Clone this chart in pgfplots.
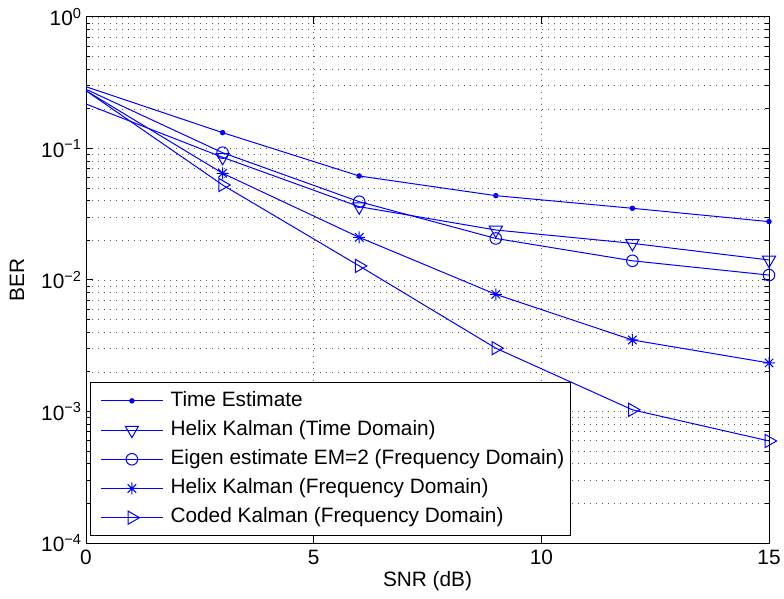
\documentclass[border=0pt]{standalone}
\usepackage{fontspec}
\setmainfont{Liberation Sans}
\usepackage{pgfplots}
\pgfplotsset{compat=1.18}
\usetikzlibrary{calc}

% MATLAB-like '*' marker (plus and cross)
\pgfdeclareplotmark{mstar}{%
  \pgfpathmoveto{\pgfqpoint{-\pgfplotmarksize}{0pt}}\pgfpathlineto{\pgfqpoint{\pgfplotmarksize}{0pt}}%
  \pgfpathmoveto{\pgfqpoint{0pt}{-\pgfplotmarksize}}\pgfpathlineto{\pgfqpoint{0pt}{\pgfplotmarksize}}%
  \pgfpathmoveto{\pgfqpoint{-0.707\pgfplotmarksize}{-0.707\pgfplotmarksize}}\pgfpathlineto{\pgfqpoint{0.707\pgfplotmarksize}{0.707\pgfplotmarksize}}%
  \pgfpathmoveto{\pgfqpoint{-0.707\pgfplotmarksize}{0.707\pgfplotmarksize}}\pgfpathlineto{\pgfqpoint{0.707\pgfplotmarksize}{-0.707\pgfplotmarksize}}%
  \pgfusepathqstroke}

\definecolor{mblue}{rgb}{0,0,1}

\begin{document}
\begin{tikzpicture}[font=\fontsize{10.4}{12.5}\selectfont]
\begin{axis}[
  scale only axis, width=341.5pt, height=263pt,
  xmin=0, xmax=15, ymin=1e-4, ymax=1, ymode=log,
  clip=false,
  xtick={0,5,10,15},
  ytick={1e-4,1e-3,1e-2,1e-1,1},
  yticklabels={10\textsuperscript{−4},10\textsuperscript{−3},10\textsuperscript{−2},10\textsuperscript{−1},10\textsuperscript{0}},
  minor ytick={2e-4,3e-4,4e-4,5e-4,6e-4,7e-4,8e-4,9e-4,
               2e-3,3e-3,4e-3,5e-3,6e-3,7e-3,8e-3,9e-3,
               2e-2,3e-2,4e-2,5e-2,6e-2,7e-2,8e-2,9e-2,
               2e-1,3e-1,4e-1,5e-1,6e-1,7e-1,8e-1,9e-1},
  /pgf/number format/assume math mode=true,
  yticklabel style={xshift=1.5pt},
  grid=both,
  major grid style={black!65, line width=0.4pt, dash pattern=on 0.5pt off 2.5pt},
  minor grid style={black!65, line width=0.4pt, dash pattern=on 0.5pt off 2.5pt},
  tick align=inside, major tick length=3.5pt, minor tick length=2pt,
  tick style={black, line width=0.5pt},
  axis line style={black, line width=0.5pt},
  xlabel={SNR (dB)}, ylabel={BER},
  xlabel style={at={(axis description cs:0.5,-0.0725)}, anchor=center},
  ylabel style={at={(axis description cs:-0.101,0.5)}, anchor=center},
  legend cell align=left,
  legend style={at={(axis description cs:0.006,0.013)}, anchor=south west,
    draw=black, line width=0.5pt, fill=white,
    inner xsep=1pt, inner ysep=2pt, row sep=0.6pt,
    nodes={text height=7.6pt, text depth=2.4pt, inner sep=2pt}},
  legend image code/.code={%
    \draw[draw=none] (0pt,0pt) -- (37pt,0pt);
    \draw[xshift=4pt,mark repeat=2,mark phase=2,#1] plot coordinates {(0cm,0cm)(0.55cm,0cm)(1.1cm,0cm)};},
  every axis plot/.append style={mblue, line width=0.5pt, mark repeat=1, mark phase=2},
]
\addplot[mark=*, mark size=1.1pt] coordinates {
  (0,0.295)(3,0.132)(6,0.0618)(9,0.0438)(12,0.0351)(15,0.0278)};
\addlegendentry{Time Estimate}
\addplot[mark=triangle, mark size=3.8pt, mark options={rotate=180}] coordinates {
  (0,0.218)(3,0.0857)(6,0.0361)(9,0.0240)(12,0.0190)(15,0.0142)};
\addlegendentry{Helix Kalman (Time Domain)}
\addplot[mark=o, mark size=2.9pt] coordinates {
  (0,0.282)(3,0.0929)(6,0.0394)(9,0.0207)(12,0.0140)(15,0.0109)};
\addlegendentry{Eigen estimate EM=2 (Frequency Domain)}
\addplot[mark=mstar, mark size=3pt] coordinates {
  (0,0.275)(3,0.0648)(6,0.0211)(9,0.00778)(12,0.00350)(15,0.00234)};
\addlegendentry{Helix Kalman (Frequency Domain)}
\addplot[mark=triangle, mark size=3.8pt, mark options={rotate=-90}] coordinates {
  (0,0.275)(3,0.0528)(6,0.0128)(9,0.00303)(12,0.00103)(15,0.000597)};
\addlegendentry{Coded Kalman (Frequency Domain)}
\end{axis}
\pgfresetboundingbox
\path ($(current axis.south west)+(-43pt,-27.5pt)$) rectangle ($(current axis.north east)+(7.5pt,8.5pt)$);
\end{tikzpicture}
\end{document}
